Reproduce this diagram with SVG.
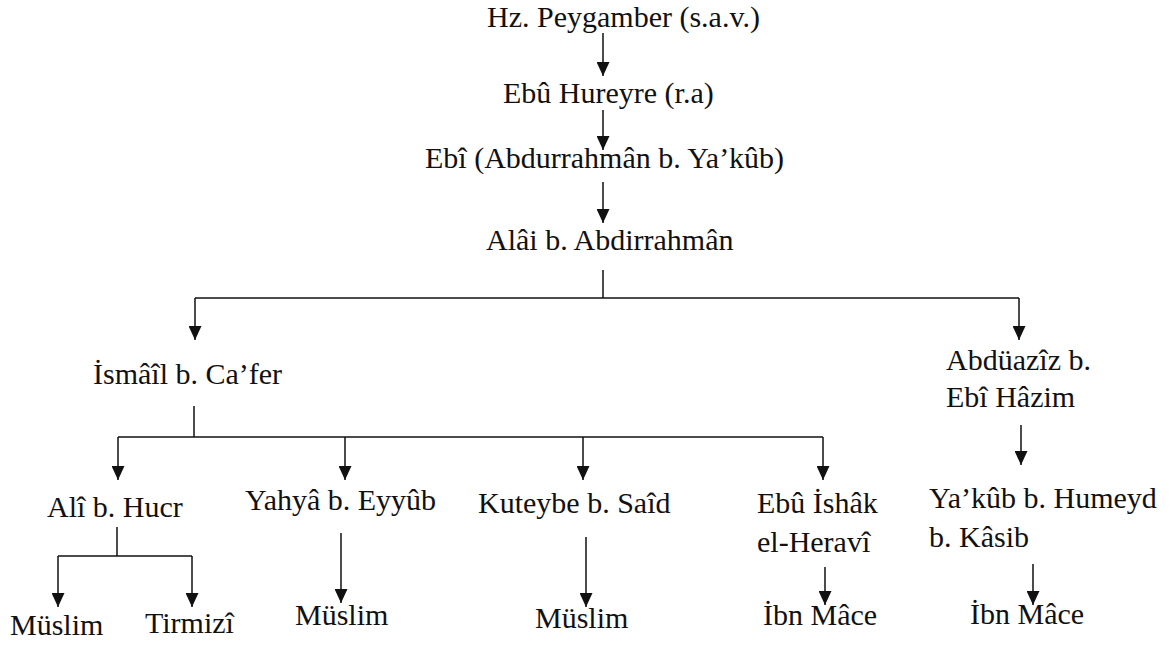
<svg xmlns="http://www.w3.org/2000/svg" width="1173" height="646" viewBox="0 0 1173 646">
  <style>
    text { font-family: "Liberation Serif", "Times New Roman", serif; font-size: 30px; fill: #111; }
    .wire { fill: none; stroke: #111; stroke-width: 1.5; }
    .arrow { marker-end: url(#head); }
  </style>
  <defs>
    <marker id="head" markerUnits="userSpaceOnUse" markerWidth="15" markerHeight="13" refX="14" refY="6.5" orient="auto">
      <path d="M0,0 L14,6.5 L0,13 Z" fill="#111"/>
    </marker>
  </defs>
  <rect width="1173" height="646" fill="#fff"/>

  <g id="connectors">
    <line class="wire arrow" x1="603" y1="33" x2="603" y2="76"/>
    <line class="wire arrow" x1="603" y1="110" x2="603" y2="150"/>
    <line class="wire arrow" x1="603" y1="182" x2="603" y2="223"/>
    <!-- split below Alâi -->
    <line class="wire" x1="603" y1="270" x2="603" y2="298"/>
    <line class="wire" x1="195" y1="298" x2="1019" y2="298"/>
    <line class="wire arrow" x1="195" y1="298" x2="195" y2="340"/>
    <line class="wire arrow" x1="1019" y1="298" x2="1019" y2="340"/>
    <!-- split below İsmâîl -->
    <line class="wire" x1="194" y1="406" x2="194" y2="437"/>
    <line class="wire" x1="118" y1="437" x2="823" y2="437"/>
    <line class="wire arrow" x1="118" y1="437" x2="118" y2="480"/>
    <line class="wire arrow" x1="345" y1="437" x2="345" y2="480"/>
    <line class="wire arrow" x1="583" y1="437" x2="583" y2="480"/>
    <line class="wire arrow" x1="823" y1="437" x2="823" y2="480"/>
    <!-- Abdüazîz to Ya'kûb -->
    <line class="wire arrow" x1="1021" y1="425" x2="1021" y2="465"/>
    <!-- split below Alî -->
    <line class="wire" x1="117" y1="527" x2="117" y2="556"/>
    <line class="wire" x1="58" y1="556" x2="192" y2="556"/>
    <line class="wire arrow" x1="58" y1="556" x2="58" y2="607"/>
    <line class="wire arrow" x1="192" y1="556" x2="192" y2="607"/>
    <line class="wire arrow" x1="341" y1="533" x2="341" y2="603"/>
    <line class="wire arrow" x1="586" y1="537" x2="586" y2="607"/>
    <line class="wire arrow" x1="825" y1="567" x2="825" y2="605"/>
    <line class="wire arrow" x1="1033" y1="564" x2="1033" y2="605"/>
  </g>

  <g id="peygamber"><text x="487" y="27">Hz. Peygamber (s.a.v.)</text></g>
  <g id="ebu-hureyre"><text x="503" y="103">Ebû Hureyre (r.a)</text></g>
  <g id="abdurrahman"><text x="425" y="168">Ebî (Abdurrahmân b. Ya’kûb)</text></g>
  <g id="alai"><text x="486" y="250">Alâi b. Abdirrahmân</text></g>
  <g id="ismail"><text x="93" y="384">İsmâîl b. Ca’fer</text></g>
  <g id="abduaziz"><text x="946" y="370">Abdüazîz b.</text><text x="946" y="407">Ebî Hâzim</text></g>
  <g id="ali-hucr"><text x="47" y="517">Alî b. Hucr</text></g>
  <g id="yahya"><text x="245" y="510">Yahyâ b. Eyyûb</text></g>
  <g id="kuteybe"><text x="478" y="513">Kuteybe b. Saîd</text></g>
  <g id="ebu-ishak"><text x="757" y="513">Ebû İshâk</text><text x="757" y="552">el-Heravî</text></g>
  <g id="yakub"><text x="929" y="508">Ya’kûb b. Humeyd</text><text x="929" y="547">b. Kâsib</text></g>
  <g id="muslim-1"><text x="10" y="635">Müslim</text></g>
  <g id="tirmizi"><text x="145" y="633">Tirmizî</text></g>
  <g id="muslim-2"><text x="295" y="625">Müslim</text></g>
  <g id="muslim-3"><text x="535" y="628">Müslim</text></g>
  <g id="ibn-mace-1"><text x="763" y="625">İbn Mâce</text></g>
  <g id="ibn-mace-2"><text x="970" y="624">İbn Mâce</text></g>
</svg>
